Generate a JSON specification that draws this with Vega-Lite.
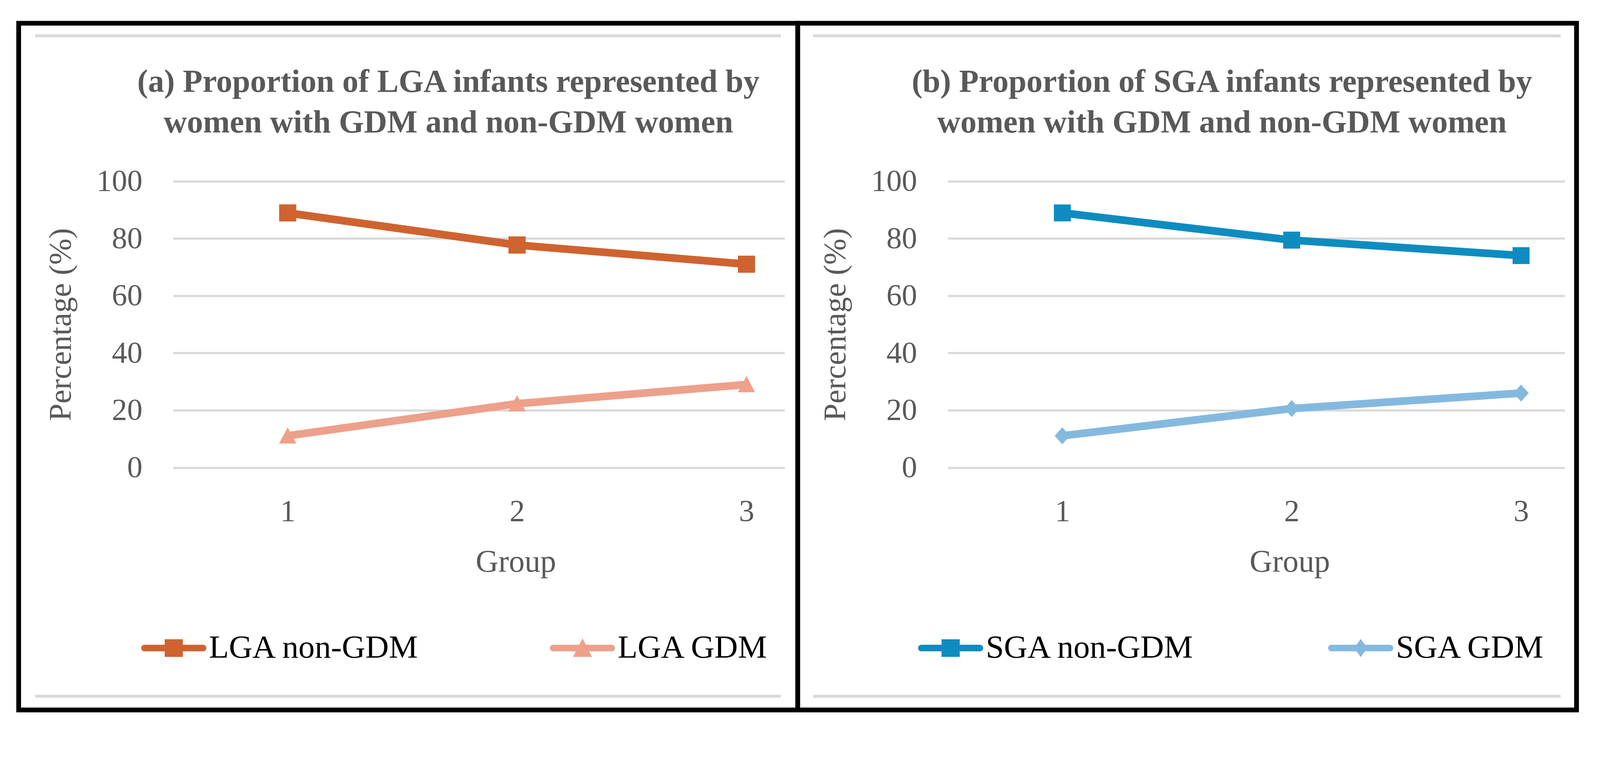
{
  "$schema": "https://vega.github.io/schema/vega-lite/v6.json",
  "width": 4086,
  "height": 1864,
  "autosize": {"type": "fit", "contains": "padding"},
  "padding": 0,
  "background": "white",
  "datasets": {
    "lga": [
      {"group": 1, "series": "LGA non-GDM", "pct": 88.9},
      {"group": 2, "series": "LGA non-GDM", "pct": 77.7},
      {"group": 3, "series": "LGA non-GDM", "pct": 71.0},
      {"group": 1, "series": "LGA GDM", "pct": 11.1},
      {"group": 2, "series": "LGA GDM", "pct": 22.3},
      {"group": 3, "series": "LGA GDM", "pct": 29.0}
    ],
    "sga": [
      {"group": 1, "series": "SGA non-GDM", "pct": 88.9},
      {"group": 2, "series": "SGA non-GDM", "pct": 79.4},
      {"group": 3, "series": "SGA non-GDM", "pct": 74.0},
      {"group": 1, "series": "SGA GDM", "pct": 11.1},
      {"group": 2, "series": "SGA GDM", "pct": 20.6},
      {"group": 3, "series": "SGA GDM", "pct": 26.0}
    ]
  },
  "resolve": {
    "scale": {"x": "independent", "y": "independent", "color": "independent", "shape": "independent"},
    "axis": {"x": "independent", "y": "independent"},
    "legend": {"color": "independent"}
  },
  "layer": [
    {
      "data": {"name": "lga"},
      "resolve": {"scale": {"color": "independent", "shape": "independent"}},
      "layer": [
        {
          "data": {"values": [{}]},
          "mark": {"type": "rect", "fill": "transparent", "stroke": "black", "strokeWidth": 12.2},
          "encoding": {
            "x": {"datum": -0.1729, "type": "quantitative", "scale": {"domain": [0.5, 3.166], "range": [442.9, 2008.4], "nice": false, "zero": false}},
            "x2": {"datum": 3.2234},
            "y": {"datum": 155.11, "type": "quantitative", "scale": {"domain": [0, 100], "range": [1196.6, 463.5], "nice": false}},
            "y2": {"datum": -84.61}
          }
        },
        {
          "data": {"values": [{}]},
          "mark": {"type": "rule", "color": "#D9D9D9", "strokeWidth": 7.5},
          "encoding": {
            "x": {"datum": -0.1011, "type": "quantitative"},
            "x2": {"datum": 3.15},
            "y": {"datum": 150.70, "type": "quantitative"}
          }
        },
        {
          "data": {"values": [{}]},
          "mark": {"type": "rule", "color": "#D9D9D9", "strokeWidth": 7.5},
          "encoding": {
            "x": {"datum": -0.1011, "type": "quantitative"},
            "x2": {"datum": 3.15},
            "y": {"datum": -79.82, "type": "quantitative"}
          }
        },
        {
          "data": {"values": [{}]},
          "mark": {"type": "text", "font": "Liberation Serif", "fontSize": 82.4, "fontWeight": "bold", "color": "#595959", "lineHeight": 103.9, "align": "center", "baseline": "alphabetic"},
          "encoding": {
            "x": {"datum": 1.7006, "type": "quantitative"},
            "y": {"datum": 131.16, "type": "quantitative"},
            "text": {"value": ["(a) Proportion of LGA infants represented by", "women with GDM and non-GDM women"]}
          }
        },
        {
          "mark": {"type": "line", "strokeWidth": 19.7, "strokeJoin": "round"},
          "encoding": {
            "x": {
              "field": "group",
              "type": "quantitative",
              "axis": {
                "orient": "bottom",
                "values": [1, 2, 3],
                "format": "d",
                "title": "Group",
                "offset": -667.4,
                "grid": false,
                "labelPadding": 74,
                "titlePadding": 50.6,
                "titleX": 1320.2
              }
            },
            "y": {
              "field": "pct",
              "type": "quantitative",
              "axis": {
                "orient": "left",
                "values": [0, 20, 40, 60, 80, 100],
                "title": "Percentage (%)",
                "offset": -442.9,
                "grid": true,
                "labelPadding": 78.6,
                "titlePadding": 48.7
              }
            },
            "color": {
              "field": "series",
              "type": "nominal",
              "scale": {"domain": ["LGA non-GDM", "LGA GDM"], "range": ["#CF6330", "#EDA08A"]},
              "legend": {
                "orient": "none",
                "legendX": 361.4,
                "legendY": 1574.8,
                "direction": "horizontal",
                "title": null,
                "symbolSize": 27777,
                "symbolStrokeWidth": 0,
                "labelOffset": 6.6,
                "columnPadding": 333.3,
                "encode": {
                  "symbols": {
                    "update": {
                      "shape": [
                        {"test": "datum.value === 'LGA non-GDM'", "value": "M-0.9,-0.1H0.9A0.1,0.1 0 0 1 0.9,0.1H-0.9A0.1,0.1 0 0 1 -0.9,-0.1Z M-0.28,-0.27H0.28V0.27H-0.28Z"},
                        {"value": "M-0.9,-0.1H0.9A0.1,0.1 0 0 1 0.9,0.1H-0.9A0.1,0.1 0 0 1 -0.9,-0.1Z M0,-0.3L0.29,0.27H-0.29Z"}
                      ],
                      "fill": [
                        {"test": "datum.value === 'LGA non-GDM'", "value": "#CF6330"},
                        {"value": "#EDA08A"}
                      ],
                      "strokeWidth": {"value": 0},
                      "opacity": {"value": 1},
                      "size": {"value": 27777}
                    }
                  }
                }
              }
            }
          }
        },
        {
          "mark": {"type": "point", "filled": true, "opacity": 1, "size": 1929},
          "encoding": {
            "x": {"field": "group", "type": "quantitative"},
            "y": {"field": "pct", "type": "quantitative"},
            "color": {
              "field": "series",
              "type": "nominal",
              "scale": {"domain": ["LGA non-GDM", "LGA GDM"], "range": ["#CF6330", "#EDA08A"]},
              "legend": null
            },
            "shape": {
              "field": "series",
              "type": "nominal",
              "scale": {"domain": ["LGA non-GDM", "LGA GDM"], "range": ["square", "M0,-1L1,0.9H-1Z"]},
              "legend": null
            }
          }
        }
      ]
    },
    {
      "data": {"name": "sga"},
      "resolve": {"scale": {"color": "independent", "shape": "independent"}},
      "layer": [
        {
          "data": {"values": [{}]},
          "mark": {"type": "rect", "fill": "transparent", "stroke": "black", "strokeWidth": 12.2},
          "encoding": {
            "x": {"datum": -0.1538, "type": "quantitative", "scale": {"domain": [0.5, 3.19], "range": [2426.0, 4005.5], "nice": false, "zero": false}},
            "x2": {"datum": 3.2418},
            "y": {"datum": 155.11, "type": "quantitative", "scale": {"domain": [0, 100], "range": [1196.6, 463.5], "nice": false}},
            "y2": {"datum": -84.61}
          }
        },
        {
          "data": {"values": [{}]},
          "mark": {"type": "rule", "color": "#D9D9D9", "strokeWidth": 7.5},
          "encoding": {
            "x": {"datum": -0.0868, "type": "quantitative"},
            "x2": {"datum": 3.1724},
            "y": {"datum": 150.70, "type": "quantitative"}
          }
        },
        {
          "data": {"values": [{}]},
          "mark": {"type": "rule", "color": "#D9D9D9", "strokeWidth": 7.5},
          "encoding": {
            "x": {"datum": -0.0868, "type": "quantitative"},
            "x2": {"datum": 3.1724},
            "y": {"datum": -79.82, "type": "quantitative"}
          }
        },
        {
          "data": {"values": [{}]},
          "mark": {"type": "text", "font": "Liberation Serif", "fontSize": 82.4, "fontWeight": "bold", "color": "#595959", "lineHeight": 103.9, "align": "center", "baseline": "alphabetic"},
          "encoding": {
            "x": {"datum": 1.6959, "type": "quantitative"},
            "y": {"datum": 131.16, "type": "quantitative"},
            "text": {"value": ["(b) Proportion of SGA infants represented by", "women with GDM and non-GDM women"]}
          }
        },
        {
          "mark": {"type": "line", "strokeWidth": 19.7, "strokeJoin": "round"},
          "encoding": {
            "x": {
              "field": "group",
              "type": "quantitative",
              "axis": {
                "orient": "bottom",
                "values": [1, 2, 3],
                "format": "d",
                "title": "Group",
                "offset": -667.4,
                "grid": false,
                "labelPadding": 74,
                "titlePadding": 50.6,
                "titleX": 3301.4
              }
            },
            "y": {
              "field": "pct",
              "type": "quantitative",
              "axis": {
                "orient": "left",
                "values": [0, 20, 40, 60, 80, 100],
                "title": "Percentage (%)",
                "offset": -2426.0,
                "grid": true,
                "labelPadding": 78.6,
                "titlePadding": 48.7
              }
            },
            "color": {
              "field": "series",
              "type": "nominal",
              "scale": {"domain": ["SGA non-GDM", "SGA GDM"], "range": ["#0E8CC0", "#84B9DF"]},
              "legend": {
                "orient": "none",
                "legendX": 2350.1,
                "legendY": 1574.8,
                "direction": "horizontal",
                "title": null,
                "symbolSize": 27777,
                "symbolStrokeWidth": 0,
                "labelOffset": 6.6,
                "columnPadding": 340.8,
                "encode": {
                  "symbols": {
                    "update": {
                      "shape": [
                        {"test": "datum.value === 'SGA non-GDM'", "value": "M-0.9,-0.1H0.9A0.1,0.1 0 0 1 0.9,0.1H-0.9A0.1,0.1 0 0 1 -0.9,-0.1Z M-0.28,-0.27H0.28V0.27H-0.28Z"},
                        {"value": "M-0.9,-0.1H0.9A0.1,0.1 0 0 1 0.9,0.1H-0.9A0.1,0.1 0 0 1 -0.9,-0.1Z M0,-0.28L0.2,0L0,0.28L-0.2,0Z"}
                      ],
                      "fill": [
                        {"test": "datum.value === 'SGA non-GDM'", "value": "#0E8CC0"},
                        {"value": "#84B9DF"}
                      ],
                      "strokeWidth": {"value": 0},
                      "opacity": {"value": 1},
                      "size": {"value": 27777}
                    }
                  }
                }
              }
            }
          }
        },
        {
          "mark": {"type": "point", "filled": true, "opacity": 1, "size": 1885},
          "encoding": {
            "x": {"field": "group", "type": "quantitative"},
            "y": {"field": "pct", "type": "quantitative"},
            "color": {
              "field": "series",
              "type": "nominal",
              "scale": {"domain": ["SGA non-GDM", "SGA GDM"], "range": ["#0E8CC0", "#84B9DF"]},
              "legend": null
            },
            "shape": {
              "field": "series",
              "type": "nominal",
              "scale": {"domain": ["SGA non-GDM", "SGA GDM"], "range": ["square", "M0,-1L0.9,0L0,1L-0.9,0Z"]},
              "legend": null
            }
          }
        }
      ]
    }
  ],
  "config": {
    "view": {"stroke": null},
    "font": "Liberation Serif",
    "axis": {
      "domain": false,
      "ticks": false,
      "tickSize": 0,
      "labelFont": "Liberation Serif",
      "labelFontSize": 78.6,
      "labelColor": "#595959",
      "titleFont": "Liberation Serif",
      "titleFontSize": 80.5,
      "titleFontWeight": "normal",
      "titleColor": "#595959",
      "gridColor": "#D9D9D9",
      "gridWidth": 5.6
    },
    "legend": {
      "padding": 0,
      "labelFont": "Liberation Serif",
      "labelFontSize": 83.3,
      "labelColor": "black",
      "labelLimit": 0
    }
  }
}
